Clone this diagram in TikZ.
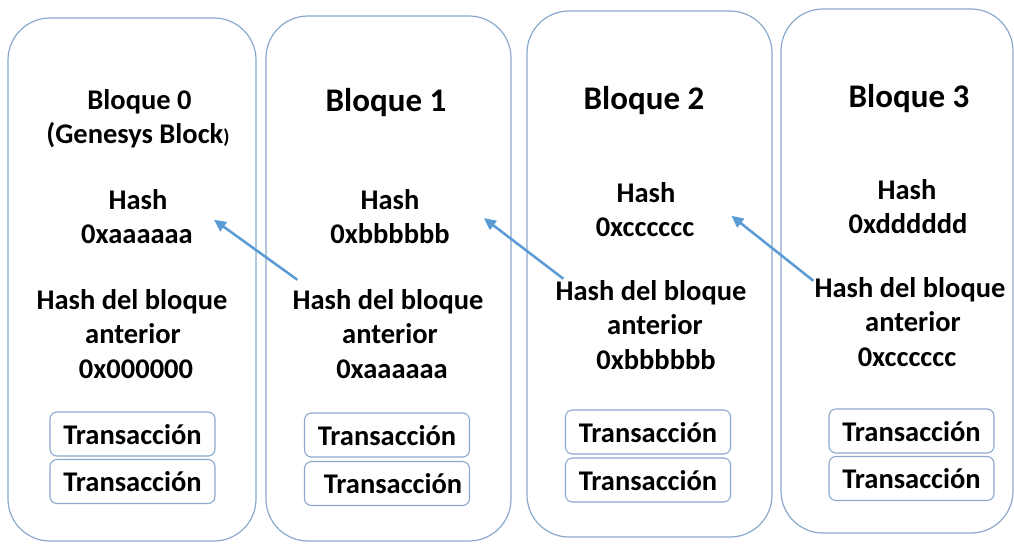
\documentclass[tikz,border=0pt]{standalone}
\usepackage{fontspec}
\setmainfont{Carlito}
\usetikzlibrary{arrows.meta}
\definecolor{frameblue}{HTML}{8AA8CC}
\definecolor{arrowblue}{HTML}{5B9BD5}
\newcommand\blkfont{\fontsize{28.5}{34.5}\selectfont\bfseries}
\newcommand\ttlfont{\fontsize{33}{39}\selectfont\bfseries}
\begin{document}
\begin{tikzpicture}[x=1pt,y=-1pt,
  blockbox/.style={draw=frameblue, line width=1.2pt, rounded corners=42pt, inner sep=0pt},
  txbox/.style={draw=frameblue, line width=1.1pt, rounded corners=7pt,
    minimum width=165pt, minimum height=44pt, inner sep=0pt,
    text height=24pt, text depth=4pt, font=\blkfont},
  lbl/.style={anchor=base, inner sep=0pt, font=\blkfont},
  ttl/.style={anchor=base, inner sep=0pt, font=\ttlfont},
  link/.style={draw=arrowblue, line width=2.5pt, -{Triangle[length=12pt,width=11pt]}}
]
\useasboundingbox (0,0) rectangle (1014,544);

% block frames
\node[blockbox, minimum width=248pt, minimum height=523pt] (b0) at (132,279.5) {};
\node[blockbox, minimum width=245pt, minimum height=525pt] (b1) at (388.5,278.5) {};
\node[blockbox, minimum width=245pt, minimum height=526pt] (b2) at (649.5,274) {};
\node[blockbox, minimum width=232pt, minimum height=524pt] (b3) at (897,271) {};

% block 0
\node[lbl] (t0)  at (139.5,109) {Bloque 0};
\node[lbl] (g0)  at (138,143.5) {(Genesys Block{\fontsize{20}{24}\selectfont)}};
\node[lbl] (h0)  at (138,209) {Hash};
\node[lbl] (hv0) at (137,243.5) {0xaaaaaa};
\node[lbl] (p0a) at (132,309) {Hash del bloque};
\node[lbl] (p0b) at (133,343.5) {anterior};
\node[lbl] (p0c) at (136,378) {0x000000};
\node[txbox] (x0a) at (132.5,434) {Transacción};
\node[txbox] (x0b) at (132.5,481.5) {Transacción};

% block 1
\node[ttl] (t1)  at (386,111) {Bloque 1};
\node[lbl] (h1)  at (390,209) {Hash};
\node[lbl] (hv1) at (390,243.5) {0xbbbbbb};
\node[lbl] (p1a) at (388,309) {Hash del bloque};
\node[lbl] (p1b) at (390,343.5) {anterior};
\node[lbl] (p1c) at (392,378) {0xaaaaaa};
\node[txbox] (x1a) at (387,435) {Transacción};
\node[txbox] (x1b) at (387,483.5) {\hspace{12pt}Transacción};

% block 2
\node[ttl] (t2)  at (644,109) {Bloque 2};
\node[lbl] (h2)  at (646,202) {Hash};
\node[lbl] (hv2) at (645,236.5) {0xcccccc};
\node[lbl] (p2a) at (651,300) {Hash del bloque};
\node[lbl] (p2b) at (655,334.5) {anterior};
\node[lbl] (p2c) at (656,369) {0xbbbbbb};
\node[txbox] (x2a) at (648,432) {Transacción};
\node[txbox] (x2b) at (648,480) {Transacción};

% block 3
\node[ttl] (t3)  at (909,107) {Bloque 3};
\node[lbl] (h3)  at (907,199) {Hash};
\node[lbl] (hv3) at (908,233.5) {0xdddddd};
\node[lbl] (p3a) at (910,297) {Hash del bloque};
\node[lbl] (p3b) at (913,331.5) {anterior};
\node[lbl] (p3c) at (907,366) {0xcccccc};
\node[txbox] (x3a) at (911.5,431) {Transacción};
\node[txbox] (x3b) at (911.5,478.5) {Transacción};

% each block points back to the hash of the previous one
\draw[link] ([shift={(5,-9)}]p1a.north west) -- ([shift={(21,-14.5)}]hv0.east);
\draw[link] ([shift={(8,-1)}]p2a.north west) -- ([shift={(34,-15.5)}]hv1.east);
\draw[link] ([shift={(-1,4)}]p3a.north west) -- ([shift={(37,-11.5)}]hv2.east);
\end{tikzpicture}
\end{document}
